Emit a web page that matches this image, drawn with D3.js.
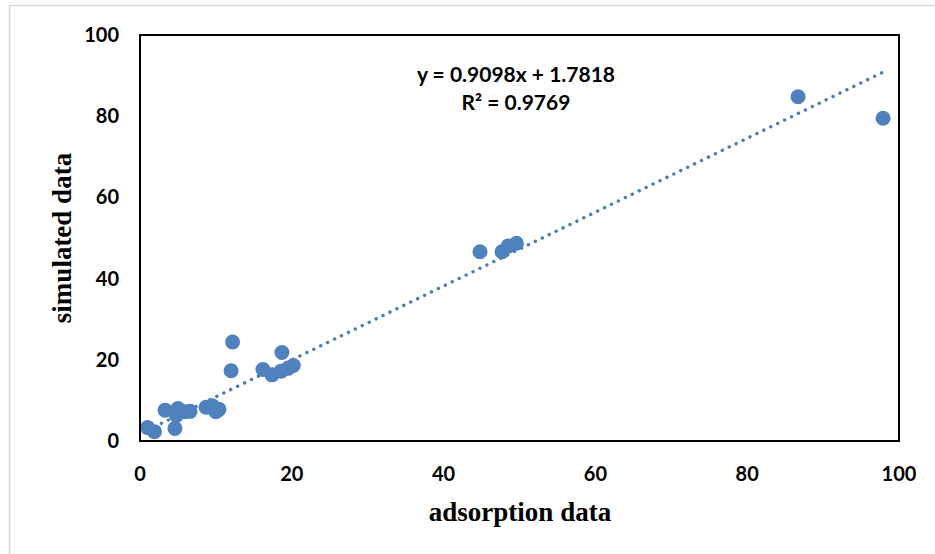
<!DOCTYPE html>
<html>
<head>
<meta charset="utf-8">
<script src="https://cdn.jsdelivr.net/npm/d3@7"></script>
<style>
  body { margin: 0; background: #fff; }
  .tick-label { font-family: Lato, "Open Sans", sans-serif; font-weight: bold; font-size: 20px; fill: #000; }
  .axis-title { font-family: "Liberation Serif", "Times New Roman", serif; font-weight: bold; font-size: 27px; fill: #000; }
  .eq { font-family: Lato, "Open Sans", sans-serif; font-weight: bold; font-size: 21px; fill: #000; }
</style>
</head>
<body>
<div id="chart"></div>
<script>
// adsorption (x) vs simulated (y)
const adsorption = [1.0, 1.9, 4.6, 3.3, 5.0, 5.9, 6.6, 4.8, 8.7, 9.5, 10.4, 10.0,
  12.2, 12.0, 16.2, 17.4, 18.7, 18.6, 19.5, 20.2, 44.8, 47.7, 48.5, 49.6, 86.7, 97.9];
const simulated = [3.3, 2.3, 3.1, 7.6, 8.0, 7.2, 7.3, 6.3, 8.3, 8.7, 7.8, 7.2,
  24.4, 17.3, 17.6, 16.3, 21.8, 17.2, 17.9, 18.6, 46.6, 46.6, 48.0, 48.7, 84.8, 79.5];
const xTicks = [0, 20, 40, 60, 80, 100];
const yTicks = [0, 20, 40, 60, 80, 100];
const slope = 0.9098, intercept = 1.7818;
const eqLines = ["y = 0.9098x + 1.7818", "R² = 0.9769"];

const width = 935, height = 554;
const margin = { top: 35, right: 36, bottom: 113, left: 140 };

const svg = d3.select("#chart").append("svg")
  .attr("width", width)
  .attr("height", height);

// light outer chart border
svg.append("rect")
  .attr("x", 9.5).attr("y", 5.5)
  .attr("width", width).attr("height", height)
  .attr("fill", "none").attr("stroke", "#d9d9d9").attr("stroke-width", 1.5);

const x = d3.scaleLinear().domain([0, 100]).range([margin.left, width - margin.right]);
const y = d3.scaleLinear().domain([0, 100]).range([height - margin.bottom, margin.top]);

// tick labels
svg.selectAll(".ytick").data(yTicks).enter().append("text")
  .attr("class", "tick-label")
  .attr("x", margin.left - 21)
  .attr("y", d => y(d) + 7)
  .style("text-anchor", "end")
  .text(d => d);

svg.selectAll(".xtick").data(xTicks).enter().append("text")
  .attr("class", "tick-label")
  .attr("x", d => x(d))
  .attr("y", height - margin.bottom + 40)
  .style("text-anchor", "middle")
  .text(d => d);

// trendline (dotted)
const xMin = d3.min(adsorption), xMax = d3.max(adsorption);
svg.append("line")
  .attr("x1", x(xMin)).attr("y1", y(slope * xMin + intercept))
  .attr("x2", x(xMax)).attr("y2", y(slope * xMax + intercept))
  .attr("stroke", "#4a7ebb")
  .attr("stroke-width", 3.4)
  .attr("stroke-linecap", "round")
  .attr("stroke-dasharray", "0.1 7.6");

// points
const pts = adsorption.map((d, i) => ({ x: d, y: simulated[i] }));
svg.selectAll(".pt").data(pts).enter().append("circle")
  .attr("class", "pt")
  .attr("cx", d => x(d.x))
  .attr("cy", d => y(d.y))
  .attr("r", 7.5)
  .attr("fill", "#4f81bd");

// plot frame
svg.append("rect")
  .attr("x", margin.left).attr("y", margin.top)
  .attr("width", width - margin.left - margin.right)
  .attr("height", height - margin.top - margin.bottom)
  .attr("fill", "none").attr("stroke", "#000").attr("stroke-width", 2);

// equation
svg.selectAll(".eq").data(eqLines).enter().append("text")
  .attr("class", "eq")
  .attr("x", 516)
  .attr("y", (d, i) => 82 + i * 28)
  .style("text-anchor", "middle")
  .text(d => d);

// axis titles
svg.append("text")
  .attr("class", "axis-title")
  .attr("x", 520)
  .attr("y", 521)
  .style("text-anchor", "middle")
  .text("adsorption data");

svg.append("text")
  .attr("class", "axis-title")
  .attr("transform", `translate(71, ${(margin.top + height - margin.bottom) / 2}) rotate(-90)`)
  .style("text-anchor", "middle")
  .text("simulated data");
</script>
</body>
</html>
